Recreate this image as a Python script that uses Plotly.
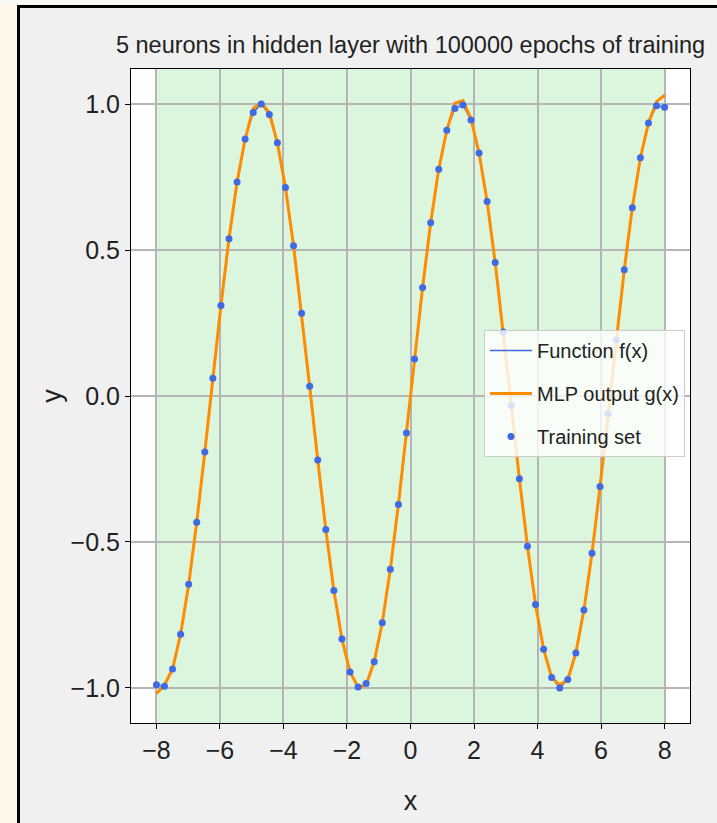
import plotly.graph_objects as go

# ---- data ----
x_train = [-8.0000, -7.7460, -7.4921, -7.2381, -6.9841, -6.7302, -6.4762, -6.2222,
           -5.9683, -5.7143, -5.4603, -5.2063, -4.9524, -4.6984, -4.4444, -4.1905,
           -3.9365, -3.6825, -3.4286, -3.1746, -2.9206, -2.6667, -2.4127, -2.1587,
           -1.9048, -1.6508, -1.3968, -1.1429, -0.8889, -0.6349, -0.3810, -0.1270,
           0.1270, 0.3810, 0.6349, 0.8889, 1.1429, 1.3968, 1.6508, 1.9048,
           2.1587, 2.4127, 2.6667, 2.9206, 3.1746, 3.4286, 3.6825, 3.9365,
           4.1905, 4.4444, 4.6984, 4.9524, 5.2063, 5.4603, 5.7143, 5.9683,
           6.2222, 6.4762, 6.7302, 6.9841, 7.2381, 7.4921, 7.7460, 8.0000]

y_train = [-0.989, -0.994, -0.935, -0.816, -0.645, -0.432, -0.192, 0.061,
           0.310, 0.539, 0.733, 0.880, 0.971, 1.000, 0.964, 0.867,
           0.714, 0.515, 0.283, 0.033, -0.219, -0.457, -0.666, -0.832,
           -0.945, -0.997, -0.985, -0.910, -0.777, -0.593, -0.372, -0.127,
           0.127, 0.372, 0.593, 0.777, 0.910, 0.985, 0.997, 0.945,
           0.832, 0.666, 0.457, 0.219, -0.033, -0.283, -0.515, -0.714,
           -0.867, -0.964, -1.000, -0.971, -0.880, -0.733, -0.539, -0.310,
           -0.061, 0.192, 0.432, 0.645, 0.816, 0.935, 0.994, 0.989]

# function f(x) line (same samples as the curve in the picture)
f_x = x_train
f_y = y_train

# MLP output g(x)
g_y = [-1.020, -0.990, -0.935, -0.816, -0.645, -0.432, -0.192, 0.061,
       0.310, 0.539, 0.733, 0.880, 0.985, 1.005, 0.970, 0.867,
       0.714, 0.515, 0.283, 0.033, -0.219, -0.457, -0.666, -0.832,
       -0.945, -0.997, -0.990, -0.910, -0.777, -0.593, -0.372, -0.127,
       0.127, 0.372, 0.593, 0.777, 0.910, 1.003, 1.012, 0.950,
       0.832, 0.666, 0.457, 0.219, -0.033, -0.283, -0.515, -0.714,
       -0.867, -0.964, -0.990, -0.971, -0.880, -0.733, -0.539, -0.310,
       -0.061, 0.192, 0.432, 0.645, 0.816, 0.935, 1.008, 1.030]

x_ticks = [-8, -6, -4, -2, 0, 2, 4, 6, 8]
y_ticks = [-1.0, -0.5, 0.0, 0.5, 1.0]
span = [-8, 8]

title_text = "5 neurons in hidden layer with 100000 epochs of training"

FONT = "Liberation Sans, Arial, sans-serif"
BLUE = "#4169e1"
ORANGE = "#ff8c00"
TXT = "#222222"

W, H = 717, 823
L, R, T, B = 131, 27, 69, 100
pw, ph = W - L - R, H - T - B


def px2x(px):
    return (px - L) / pw


def py2y(py):
    return (H - B - py) / ph


fig = go.Figure()
fig.add_trace(go.Scatter(x=f_x, y=f_y, mode="lines", name="Function f(x)",
                         line=dict(color=BLUE, width=1.5), legendgroup="a"))
fig.add_trace(go.Scatter(x=x_train, y=g_y, mode="lines", name="MLP output g(x)",
                         line=dict(color=ORANGE, width=3), legendgroup="b"))
fig.add_trace(go.Scatter(x=x_train, y=y_train, mode="markers", name="Training set",
                         marker=dict(color=BLUE, size=7), legendgroup="c"))

shapes = [
    # green span
    dict(type="rect", xref="x", yref="paper", x0=span[0], x1=span[1], y0=0, y1=1,
         fillcolor="#dcf5dd", line=dict(width=0), layer="below"),
    # cream strip on the left
    dict(type="rect", xref="paper", yref="paper", x0=px2x(-5), x1=px2x(17),
         y0=py2y(-5), y1=py2y(H + 5), fillcolor="#fdf7e9", line=dict(width=0), layer="below"),
    # light strip on top
    dict(type="rect", xref="paper", yref="paper", x0=px2x(-5), x1=px2x(W + 5),
         y0=py2y(-5), y1=py2y(5), fillcolor="#f8faf3", line=dict(width=0), layer="below"),
    # black frame
    dict(type="rect", xref="paper", yref="paper", x0=px2x(18.5), x1=px2x(W + 20),
         y0=py2y(H + 20), y1=py2y(6.5), fillcolor="rgba(0,0,0,0)",
         line=dict(color="black", width=3), layer="above"),
]

axis_common = dict(
    showline=True, linecolor="black", linewidth=1.2, mirror=True,
    ticks="outside", ticklen=5, tickwidth=1, tickcolor="black",
    showgrid=True, gridcolor="#b5b5b5", gridwidth=1.5, zeroline=False,
    tickfont=dict(family=FONT, size=25, color=TXT),
)

fig.update_layout(
    width=W, height=H,
    margin=dict(l=L, r=R, t=T, b=B, pad=0),
    paper_bgcolor="#f0f0f0", plot_bgcolor="white",
    font=dict(family=FONT, color=TXT),
    title=dict(text=title_text, x=(L + pw / 2) / W, xanchor="center",
               y=1 - 45 / H, yanchor="middle", yref="container",
               font=dict(family=FONT, size=23.5, color=TXT)),
    xaxis=dict(range=[-8.8, 8.8], tickvals=x_ticks,
               title=dict(text="x", font=dict(family=FONT, size=27), standoff=28),
               **axis_common),
    yaxis=dict(range=[-1.12, 1.12], tickvals=y_ticks, tickformat=".1f",
               title=dict(text="y", font=dict(family=FONT, size=27), standoff=1),
               **axis_common),
    legend=dict(x=px2x(484), y=py2y(330), xanchor="left", yanchor="top",
                bgcolor="rgba(255,255,255,0.8)", bordercolor="#cccccc", borderwidth=1,
                font=dict(family=FONT, size=20, color=TXT), tracegroupgap=14,
                itemwidth=42),
    shapes=shapes,
    showlegend=True,
)

fig.write_html(
    "out.html",
    config={"displayModeBar": False},
    post_script="document.body.style.margin='0px';document.body.style.overflow='hidden';",
)
